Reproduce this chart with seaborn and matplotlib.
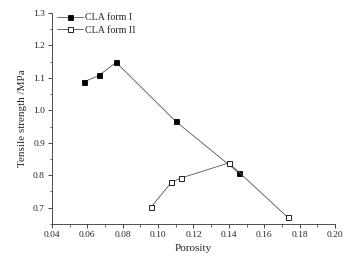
import matplotlib

matplotlib.use("Agg")

import matplotlib.pyplot as plt
import pandas as pd
import seaborn as sns
from matplotlib.ticker import MultipleLocator

# Data
porosity_form1 = [0.0582, 0.0667, 0.0763, 0.1100, 0.1455]
strength_form1 = [1.088, 1.108, 1.148, 0.966, 0.808]
porosity_form2 = [0.0962, 0.1075, 0.1132, 0.1400, 0.1733]
strength_form2 = [0.703, 0.778, 0.792, 0.838, 0.670]
series_labels = ["CLA form I", "CLA form II"]

df = pd.concat(
    [
        pd.DataFrame({"porosity": porosity_form1, "strength": strength_form1, "form": series_labels[0]}),
        pd.DataFrame({"porosity": porosity_form2, "strength": strength_form2, "form": series_labels[1]}),
    ],
    ignore_index=True,
)

sns.set_theme(style="ticks")
plt.rcParams["font.family"] = ["Liberation Serif", "DejaVu Serif"]

fig = plt.figure(figsize=(3.55, 2.61), dpi=100)
ax = fig.add_axes([0.146, 0.142, 0.798, 0.808])

for label, face in zip(series_labels, ["black", "white"]):
    sub = df[df["form"] == label]
    sns.lineplot(
        data=sub,
        x="porosity",
        y="strength",
        ax=ax,
        color="#555555",
        linewidth=0.6,
        marker="s",
        markersize=3.6,
        markerfacecolor=face,
        markeredgecolor="black",
        markeredgewidth=0.6,
        label=label,
        sort=False,
    )

ax.set_xlim(0.04, 0.20)
ax.set_ylim(0.65, 1.3)
ax.xaxis.set_major_locator(MultipleLocator(0.02))
ax.xaxis.set_minor_locator(MultipleLocator(0.01))
ax.yaxis.set_major_locator(MultipleLocator(0.1))
ax.yaxis.set_minor_locator(MultipleLocator(0.05))
ax.set_xticklabels([f"{v:.2f}" for v in ax.get_xticks()])
ax.set_yticks([0.7, 0.8, 0.9, 1.0, 1.1, 1.2, 1.3])
ax.set_yticklabels([f"{v:.1f}" for v in ax.get_yticks()])
ax.tick_params(axis="both", which="major", labelsize=6.8, length=3, width=0.6, direction="out", pad=2)
ax.tick_params(axis="both", which="minor", length=1.8, width=0.5, direction="out")
sns.despine(ax=ax)
for side in ["left", "bottom"]:
    ax.spines[side].set_linewidth(0.6)
    ax.spines[side].set_color("#333333")

ax.set_xlabel("Porosity", fontsize=8, labelpad=4)
ax.set_ylabel("Tensile strength /MPa", fontsize=8, labelpad=4)

ax.legend(
    loc="upper left",
    frameon=False,
    fontsize=7.2,
    handlelength=2.6,
    handletextpad=0.2,
    labelspacing=0.35,
    borderpad=0,
    borderaxespad=0,
    bbox_to_anchor=(0.02, 1.0),
)

fig.savefig("out.png", dpi=100)
